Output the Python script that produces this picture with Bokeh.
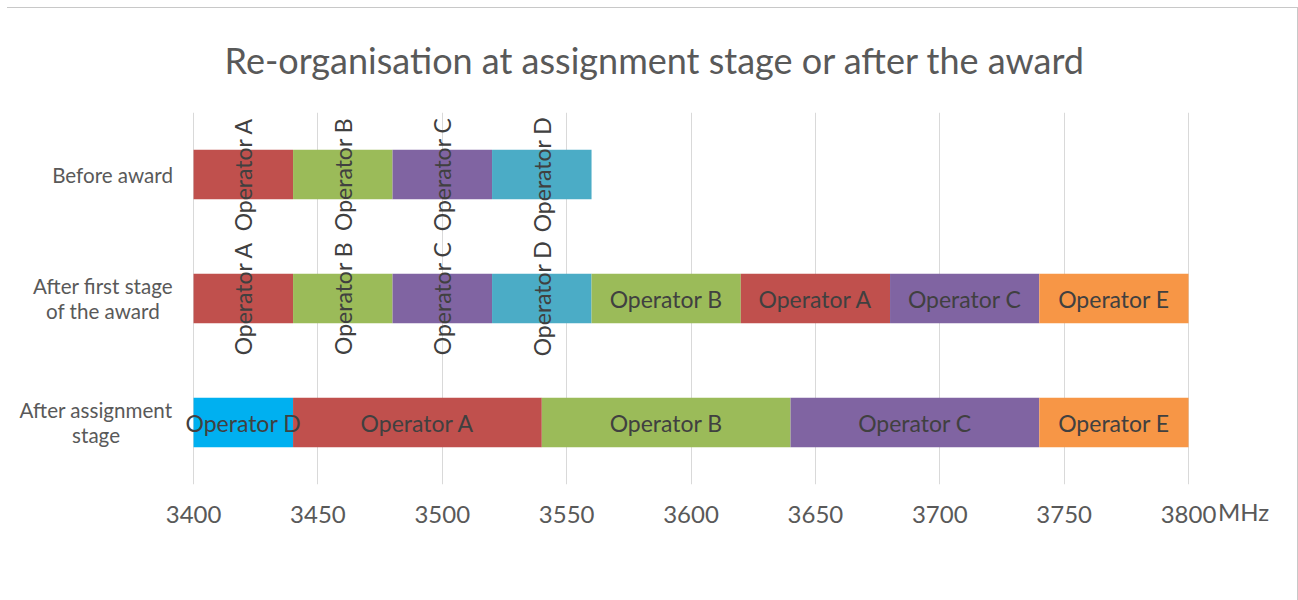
import numpy as np
from bokeh.plotting import figure
from bokeh.models import ColumnDataSource, FactorRange, Range1d, FixedTicker
from bokeh.core.properties import value
from bokeh.embed import file_html
from bokeh.resources import INLINE

# ---- data ----
title_text = "Re-organisation at assignment stage or after the award"
rows = ["Before award", "After first stage of the award", "After assignment stage"]
row_labels = ["Before award", "After first stage\nof the award", "After assignment\nstage"]
band_start = 3400
band_end = 3800
unit = "MHz"
x_ticks = [3400, 3450, 3500, 3550, 3600, 3650, 3700, 3750, 3800]

before_ops = ["Operator A", "Operator B", "Operator C", "Operator D"]
before_widths = [40, 40, 40, 40]

first_ops = ["Operator A", "Operator B", "Operator C", "Operator D",
             "Operator B", "Operator A", "Operator C", "Operator E"]
first_widths = [40, 40, 40, 40, 60, 60, 60, 60]

assign_ops = ["Operator D", "Operator A", "Operator B", "Operator C", "Operator E"]
assign_widths = [40, 100, 100, 100, 60]

# ---- styles ----
RED, GREEN, PURPLE, TEAL, ORANGE, CYAN = "#C0504D", "#9BBB59", "#8064A2", "#4BACC6", "#F79646", "#00B0F0"
before_colors = [RED, GREEN, PURPLE, TEAL]
first_colors = [RED, GREEN, PURPLE, TEAL, GREEN, RED, PURPLE, ORANGE]
assign_colors = [CYAN, RED, GREEN, PURPLE, ORANGE]
before_angles = [np.pi / 2] * 4
first_angles = [np.pi / 2] * 4 + [0] * 4
assign_angles = [0] * 5
row_label_offsets = [-81, -90.5, -97.5]   # px, centre of each row label block

FONT = "Lato"
GRAY = "#595959"
PAD_LEFT = 74.8    # view padding (MHz) left of the band, room for row labels
PAD_RIGHT = 22.1   # view padding (MHz) right of the band, room for the unit

ops_all = [before_ops, first_ops, assign_ops]
widths_all = [before_widths, first_widths, assign_widths]
colors_all = [before_colors, first_colors, assign_colors]
angles_all = [before_angles, first_angles, assign_angles]

y, left, right, mid, names, colors, angles = [], [], [], [], [], [], []
for r, ops, ws, cs, ang in zip(rows, ops_all, widths_all, colors_all, angles_all):
    edges = band_start + np.concatenate([[0], np.cumsum(ws)])
    for i, op in enumerate(ops):
        y.append(r)
        left.append(edges[i])
        right.append(edges[i + 1])
        mid.append((edges[i] + edges[i + 1]) / 2)
        names.append(op)
        colors.append(cs[i])
        angles.append(ang[i])

src = ColumnDataSource(dict(y=y, left=left, right=right, mid=mid,
                            name=names, color=colors, angle=angles))

p = figure(width=1291, height=593, output_backend="svg", toolbar_location=None,
           y_range=FactorRange(factors=rows[::-1]),
           x_range=Range1d(band_start - PAD_LEFT, band_end + PAD_RIGHT))
p.min_border_left = 0
p.min_border_right = 55
p.min_border_top = 102
p.min_border_bottom = 117
p.outline_line_color = None
p.background_fill_color = "white"
p.border_fill_color = "white"
p.styles = {"margin-left": "7px", "margin-top": "7px",
            "border-top": "1px solid #c8c8c8", "border-right": "1px solid #c8c8c8",
            "box-sizing": "border-box"}

p.title.text = title_text
p.title.align = "left"
p.title.vertical_align = "top"
p.title.offset = 217
p.title.standoff = 58
p.title.text_font = FONT
p.title.text_font_size = "36px"
p.title.text_font_style = "normal"
p.title.text_color = GRAY

p.hbar(y="y", left="left", right="right", height=0.4, fill_color="color",
       line_color=None, source=src)
p.text(x="mid", y="y", text="name", angle="angle", source=src,
       text_align="center", text_baseline="middle",
       text_font=value(FONT), text_font_size="23px", text_color="#404040")

ysrc = ColumnDataSource(dict(x=[band_start] * len(rows), y=rows, text=row_labels,
                             xoff=row_label_offsets))
p.text(x="x", y="y", text="text", source=ysrc, x_offset="xoff",
       text_align="center", text_baseline="middle", text_line_height=1.05,
       text_font=value(FONT), text_font_size="20.6px", text_color=GRAY)

p.xgrid.grid_line_color = "#d9d9d9"
p.ygrid.grid_line_color = None
p.xaxis.ticker = FixedTicker(ticks=x_ticks)
p.xaxis.axis_line_color = None
p.xaxis.major_tick_line_color = None
p.xaxis.minor_tick_line_color = None
p.xaxis.major_label_standoff = 15
p.xaxis.major_label_text_font = FONT
p.xaxis.major_label_text_font_size = "24px"
p.xaxis.major_label_text_color = GRAY
p.xaxis.axis_label = unit
p.xaxis.axis_label_align = "end"
p.xaxis.axis_label_standoff = -29
p.xaxis.axis_label_text_font = FONT
p.xaxis.axis_label_text_font_size = "24px"
p.xaxis.axis_label_text_font_style = "normal"
p.xaxis.axis_label_text_color = GRAY

p.yaxis.visible = False

open("out.html", "w").write(file_html(p, INLINE))
